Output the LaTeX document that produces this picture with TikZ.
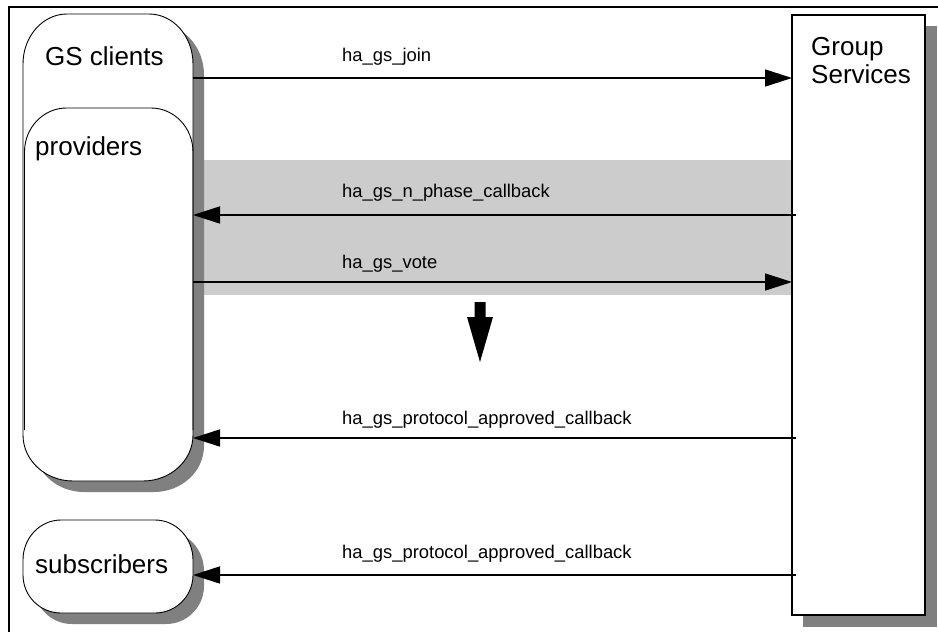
\documentclass[tikz,border=0pt]{standalone}
\usepackage{fontspec}
\setmainfont{Liberation Sans}
\usetikzlibrary{arrows.meta}
\definecolor{shadowgray}{HTML}{808080}
\definecolor{bandgray}{HTML}{CCCCCC}
% rounded box with elliptical corners:
% x0,y0,x1,y1, top radii (x,y), bottom radii (x,y), path options
\newcommand\rndbox[9]{%
  \path[#9] (#1+#5,#2) -- (#3-#5,#2)
    arc[start angle=90,end angle=0,x radius=#5pt,y radius=#6pt]
    -- (#3,#4-#8)
    arc[start angle=0,end angle=-90,x radius=#7pt,y radius=#8pt]
    -- (#1+#7,#4)
    arc[start angle=-90,end angle=-180,x radius=#7pt,y radius=#8pt]
    -- (#1,#2+#6)
    arc[start angle=180,end angle=90,x radius=#5pt,y radius=#6pt]
    -- cycle;}
\begin{document}
\begin{tikzpicture}[x=1pt,y=-1pt,
  shade/.style={fill=shadowgray,shift={(11,11)}},
  outline/.style={draw,fill=white,line width=0.9pt},
  anchorbox/.style={inner sep=0pt,outer sep=0pt},
  boxtext/.style={anchor=base west,inner sep=0pt,font=\fontsize{26}{28}\selectfont},
  lbl/.style={anchor=base west,inner sep=0pt,font=\fontsize{18.4}{22}\selectfont},
  msg/.style={line width=1.6pt,-{Triangle[length=27pt,width=17pt]}}]
\useasboundingbox (0,0) rectangle (938,632);

% outer frame
\draw[line width=2pt] (938,7) -- (9,7) -- (9,632);

% shaded phase band
\fill[bandgray] (193,160) rectangle (792,295);

% GS clients (with providers inside)
\rndbox{23}{14}{193}{481}{44}{50}{50}{46}{shade}
\rndbox{23}{14}{193}{481}{44}{50}{50}{46}{outline}
\draw[line width=0.9pt] (24.5,430) -- (24.5,152)
  arc[start angle=180,end angle=90,x radius=42pt,y radius=44pt] -- (151,108)
  arc[start angle=90,end angle=0,x radius=42pt,y radius=44pt] -- (193,430);

% subscribers
\rndbox{23}{520}{193}{613}{38}{40}{38}{38}{shade}
\rndbox{23}{520}{193}{613}{38}{40}{38}{38}{outline}

% Group Services
\fill[shadowgray] (803,26) rectangle (937,627);
\draw[line width=2pt,fill=white] (792,15) rectangle (925,615);

% named extents of the boxes
\node[anchorbox,minimum width=170pt,minimum height=467pt] (clients) at (108,247.5) {};
\node[anchorbox,minimum width=170pt,minimum height=373pt] (providers) at (108,294.5) {};
\node[anchorbox,minimum width=170pt,minimum height=93pt] (subs) at (108,566.5) {};
\node[anchorbox,minimum width=133pt,minimum height=600pt] (gsrv) at (858.5,315) {};

% box titles
\node[boxtext] (clientsT) at (45,65) {GS clients};
\node[boxtext] (providersT) at (35,155) {providers};
\node[boxtext] (subsT) at (35,573) {subscribers};
\node[boxtext] (gsrvT1) at (811,55) {Group};
\node[boxtext] (gsrvT2) at (811,83) {Services};

% messages
\draw[msg] (clients.east |- 0,78) -- (gsrv.west |- 0,78);
\node[lbl] (m1) at (342,61) {ha\_gs\_join};

\draw[msg] ([xshift=4pt]gsrv.west |- 0,215) -- (providers.east |- 0,215);
\node[lbl] (m2) at (342,197) {ha\_gs\_n\_phase\_callback};

\draw[msg] (providers.east |- 0,282) -- (gsrv.west |- 0,282);
\node[lbl] (m3) at (342,268) {ha\_gs\_vote};

\draw[msg] ([xshift=4pt]gsrv.west |- 0,438) -- (providers.east |- 0,438);
\node[lbl] (m4) at (342,424) {ha\_gs\_protocol\_approved\_callback};

\draw[msg] ([xshift=4pt]gsrv.west |- 0,575) -- (subs.east |- 0,575);
\node[lbl] (m5) at (342,558) {ha\_gs\_protocol\_approved\_callback};

% phase progression arrow
\fill (474.5,302) -- (485.5,302) -- (485.5,317) -- (493,317) -- (480,362)
  -- (467,317) -- (474.5,317) -- cycle;
\end{tikzpicture}
\end{document}
